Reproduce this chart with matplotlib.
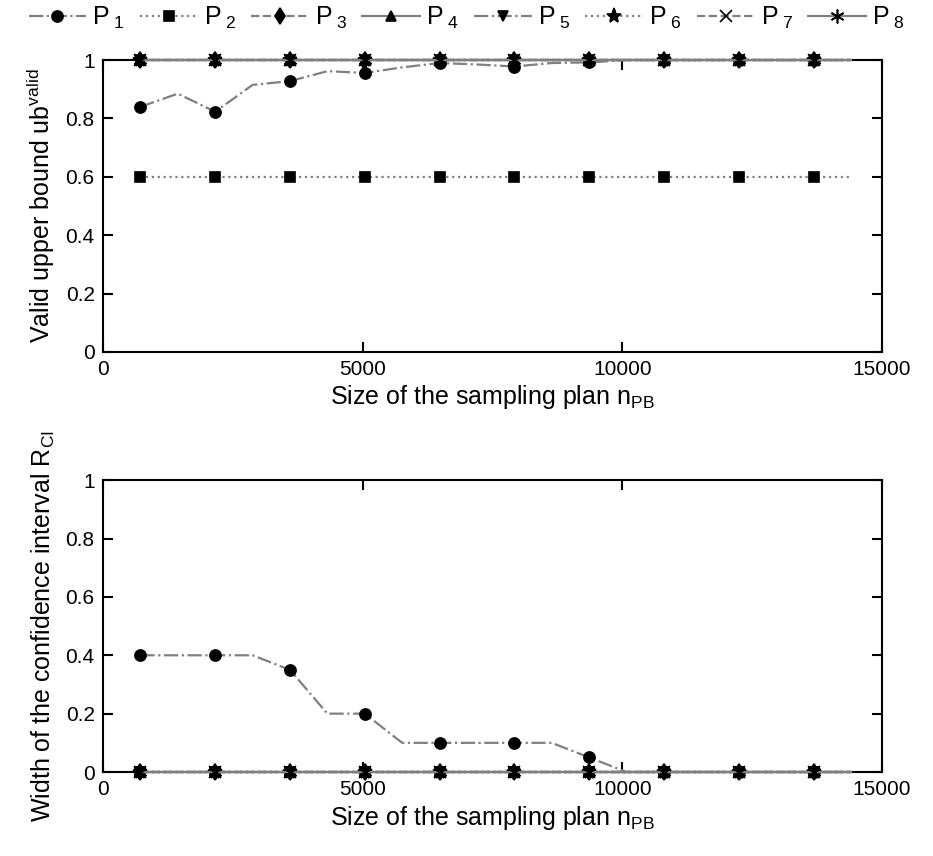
import matplotlib
matplotlib.use("Agg")
import matplotlib.pyplot as plt
from matplotlib.ticker import FormatStrFormatter

plt.rcParams['font.family'] = ['Liberation Sans', 'DejaVu Sans']
plt.rcParams['mathtext.default'] = 'regular'

# sample plan sizes (one line point every 720, marker every other point)
n_pb = [720, 1440, 2160, 2880, 3600, 4320, 5040, 5760, 6480, 7200,
        7920, 8640, 9360, 10080, 10800, 11520, 12240, 12960, 13680, 14400]

# valid upper bound
ub_p1 = [0.84, 0.885, 0.823, 0.915, 0.928, 0.962, 0.956, 0.975, 0.99, 0.985,
         0.978, 0.99, 0.992, 1.0, 1.0, 1.0, 1.0, 1.0, 1.0, 1.0]
ub_p2 = [0.6] * 20
ub_rest = [1.0] * 20

# width of confidence interval
ci_p1 = [0.4, 0.4, 0.4, 0.4, 0.35, 0.2, 0.2, 0.1, 0.1, 0.1,
         0.1, 0.1, 0.05, 0.0, 0.0, 0.0, 0.0, 0.0, 0.0, 0.0]
ci_rest = [0.0] * 20

labels = ["P$_{\\;1}$", "P$_{\\;2}$", "P$_{\\;3}$", "P$_{\\;4}$",
          "P$_{\\;5}$", "P$_{\\;6}$", "P$_{\\;7}$", "P$_{\\;8}$"]
markers = ['o', 's', 'd', '^', 'v', '*', 'x', (6, 2, 0)]
sizes = [8, 6.5, 8, 7.5, 7.5, 11, 8, 10]
styles = ['-.', ':', '--', '-', '-.', ':', '--', '-']

ub_data = [ub_p1, ub_p2] + [ub_rest] * 6
ci_data = [ci_p1] + [ci_rest] * 7

fig = plt.figure(figsize=(9.33, 8.56), dpi=100)
ax1 = fig.add_axes([0.1104, 0.5888, 0.835, 0.341])
ax2 = fig.add_axes([0.1104, 0.0981, 0.835, 0.341])


def draw(ax, data):
    hs = []
    for i in range(8):
        h, = ax.plot(n_pb, data[i], linestyle=styles[i], color='#808080', lw=1.6,
                     marker=markers[i], markevery=2, markersize=sizes[i],
                     markerfacecolor='black', markeredgecolor='black',
                     markeredgewidth=1.2, label=labels[i], zorder=3, clip_on=False)
        hs.append(h)
    ax.set_xlim(0, 15000)
    ax.set_ylim(0, 1)
    ax.set_xticks([0, 5000, 10000, 15000])
    ax.set_yticks([0, 0.2, 0.4, 0.6, 0.8, 1])
    ax.yaxis.set_major_formatter(FormatStrFormatter('%g'))
    ax.tick_params(direction='in', top=True, right=True, length=7, width=1.5,
                   labelsize=15, pad=6)
    for s in ax.spines.values():
        s.set_linewidth(1.5)
        s.set_zorder(2)
    ax.set_xlabel("Size of the sampling plan n$_{PB}$", fontsize=18, labelpad=3)
    return hs


hs = draw(ax1, ub_data)
draw(ax2, ci_data)
ax1.set_ylabel("Valid upper bound ub$^{valid}$", fontsize=18, labelpad=6)
ax2.set_ylabel("Width of the confidence interval R$_{CI}$", fontsize=18, labelpad=6)

fig.legend(handles=hs, loc='upper center', bbox_to_anchor=(0.5, 1.012), ncol=8,
           frameon=False, fontsize=18, handlelength=2.3, handletextpad=0.25,
           columnspacing=0.6, borderaxespad=0.2)

fig.savefig("out.png", dpi=100)
